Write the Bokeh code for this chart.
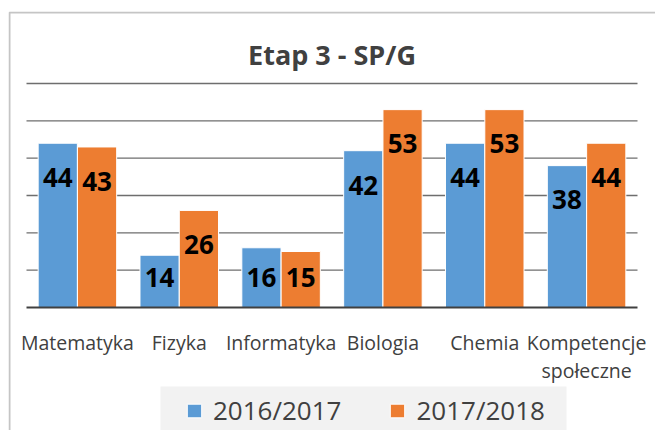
from bokeh.plotting import figure
from bokeh.models import (ColumnDataSource, FactorRange, Range1d,
                          Legend, LegendItem, BoxAnnotation)
from bokeh.transform import dodge
from bokeh.core.properties import value
from bokeh.embed import file_html
from bokeh.resources import INLINE

# ---- data ----
title_text = "Etap 3 - SP/G"
categories = ["Matematyka", "Fizyka", "Informatyka", "Biologia", "Chemia",
              "Kompetencje społeczne"]
tick_labels = ["Matematyka", "Fizyka", "Informatyka", "Biologia", "Chemia",
               "Kompetencje\nspołeczne"]
series_names = ["2016/2017", "2017/2018"]
values_2016 = [44, 14, 16, 42, 44, 38]
values_2017 = [43, 26, 15, 53, 53, 44]
grid_values = [10, 20, 30, 40, 50, 60]
colors = ["#5B9BD5", "#ED7D31"]

FONT = "Open Sans"

# ---- layout constants (pixels) ----
W, H = 655, 430
FRAME_L, FRAME_T = 8, 11
PLOT_W = 611            # width of the category band
PLOT_H = 224            # height from 0 to top gridline
BASE_Y = 307            # pixel row of value 0
ppc = PLOT_W / len(categories)
ppu = PLOT_H / grid_values[-1]
pad = (26 - FRAME_L) / ppc
y_lo = -(H - BASE_Y) / ppu
y_hi = grid_values[-1] + (BASE_Y - PLOT_H - FRAME_T) / ppu


def label_pos(vals):
    # inside-end data labels, kept within the bar
    return [max(v - 9.2, 8.0) for v in vals]


src = ColumnDataSource(dict(
    cat=categories, tick=tick_labels,
    v16=values_2016, v17=values_2017,
    l16=[str(v) for v in values_2016], l17=[str(v) for v in values_2017],
    y16=label_pos(values_2016), y17=label_pos(values_2017),
))
grid_src = ColumnDataSource(dict(g=grid_values))

p = figure(x_range=FactorRange(factors=categories, range_padding=pad,
                               range_padding_units="absolute"),
           y_range=Range1d(y_lo, y_hi),
           width=W, height=H, output_backend="svg", toolbar_location=None,
           x_axis_location=None, y_axis_location=None,
           min_border_left=FRAME_L, min_border_right=0,
           min_border_top=FRAME_T, min_border_bottom=0)

p.outline_line_color = None
p.background_fill_color = "white"
p.border_fill_color = "white"
p.xgrid.visible = False
p.ygrid.visible = False

n = len(categories)

# legend background (underlay)
legend_bg = BoxAnnotation(left=160, right=566, top=386, bottom=440,
                          left_units="canvas", right_units="canvas",
                          top_units="canvas", bottom_units="canvas",
                          fill_color="#f2f2f2", fill_alpha=1, line_alpha=0,
                          level="underlay")
p.add_layout(legend_bg)

# horizontal gridlines across the category band
p.segment(x0=0, x1=n, y0="g", y1="g", source=grid_src,
          line_color="#6e6e6e", line_width=1.3)

off = 0.193
bw = 0.385
r1 = p.vbar(x=dodge("cat", -off, range=p.x_range), top="v16", width=bw, source=src,
            fill_color=colors[0], line_color="white", line_width=1)
r2 = p.vbar(x=dodge("cat", off, range=p.x_range), top="v17", width=bw, source=src,
            fill_color=colors[1], line_color="white", line_width=1)

# baseline
p.segment(x0=0, x1=n, y0=0, y1=0, line_color="#404040", line_width=2)

for xo, ycol, lcol in [(-off, "y16", "l16"), (off, "y17", "l17")]:
    p.text(x=dodge("cat", xo, range=p.x_range), y=ycol, text=lcol, source=src,
           text_align="center", text_baseline="middle",
           text_font=value(FONT), text_font_style="bold",
           text_font_size=value("26px"), text_color="black")

# category labels
p.text(x="cat", y=0, y_offset=21, text="tick", source=src,
       text_align="center", text_baseline="top", text_line_height=1.05,
       text_font=value(FONT), text_font_size=value("19.5px"),
       text_color="#404040")

# title
p.text(x=n / 2, y=grid_values[-1], y_offset=-29, text=[title_text],
       text_align="center", text_baseline="alphabetic",
       text_font=value(FONT), text_font_style="bold",
       text_font_size=value("27px"), text_color="#404040")

legend = Legend(items=[LegendItem(label=series_names[0], renderers=[r1]),
                       LegendItem(label=series_names[1], renderers=[r2])],
                orientation="horizontal", location=(177, 2),
                background_fill_alpha=0, border_line_alpha=0,
                padding=0, margin=0, spacing=47, label_standoff=10,
                glyph_width=18, glyph_height=17,
                label_text_font=FONT, label_text_font_size="26px",
                label_text_color="#404040")
p.add_layout(legend)

# chart frame border (left and top edges visible)
border = BoxAnnotation(left=9, right=1000, top=12, bottom=1000,
                       left_units="canvas", right_units="canvas",
                       top_units="canvas", bottom_units="canvas",
                       fill_alpha=0, line_color="#404040", line_width=2)
p.add_layout(border)

open("out.html", "w").write(file_html(p, INLINE))
